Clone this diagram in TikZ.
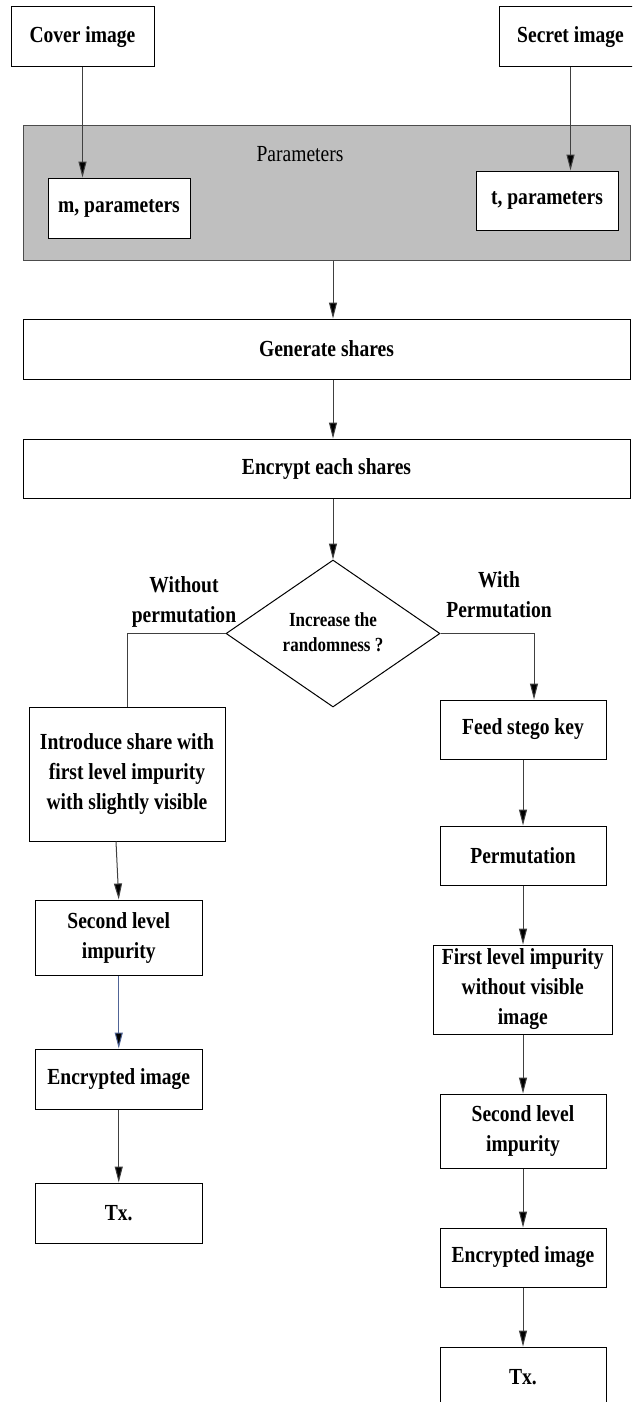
\documentclass[tikz,border=0pt]{standalone}
\usepackage{fontspec}
\setmainfont[FakeStretch=0.85]{Liberation Serif}
\usetikzlibrary{shapes.geometric,arrows.meta}

\begin{document}
\begin{tikzpicture}[x=1pt,y=-1pt,
  box/.style={draw=black, line width=1pt, fill=white, align=center, inner sep=0pt,
    font=\fontsize{23}{30}\selectfont\bfseries},
  link/.style={draw=black!75, line width=1pt},
  arr/.style={link, -{Triangle[length=16pt,width=8pt,fill=black]}}
]
\clip (0,0) rectangle (632,1402);
\fill[white] (0,0) rectangle (632,1402);

% inputs
\node[box, minimum width=143pt, minimum height=60pt] (cover) at (82.5,37) {Cover image};
\node[box, minimum width=143pt, minimum height=60pt] (secret) at (570.5,37) {Secret image};

% parameter block
\node[draw=black!70, line width=1pt, fill=black!25, minimum width=607pt, minimum height=134pt,
  inner sep=0pt] (par) at (326.5,193) {};
\node[font=\fontsize{23}{30}\selectfont] (partitle) at (300,154) {Parameters};
\node[box, minimum width=142pt, minimum height=60pt] (mpar) at (119,208) {m, parameters};
\node[box, minimum width=142pt, minimum height=59pt] (tpar) at (547,200.5) {t, parameters};

% main chain
\node[box, minimum width=607pt, minimum height=60pt] (gen) at (326.5,349) {Generate shares};
\node[box, minimum width=607pt, minimum height=59pt] (enc) at (326.5,468.5) {Encrypt each shares};
\node[draw=black, line width=1pt, diamond, minimum width=214pt, minimum height=147pt,
  inner sep=0pt] (dia) at (333,633.5) {};
\node[align=center, font=\fontsize{20}{25}\selectfont\bfseries] (diatext) at (333,632.5)
  {Increase the\\randomness ?};

% branch labels
\node[align=center, font=\fontsize{23}{30}\selectfont\bfseries] (lwo) at (184,602) {Without\\permutation};
\node[align=center, font=\fontsize{23}{30}\selectfont\bfseries] (lwi) at (499,594.5) {With\\Permutation};

% left branch
\node[box, minimum width=196pt, minimum height=134pt] (intro) at (127,774)
  {Introduce share with\\first level impurity\\with slightly visible};
\node[box, minimum width=166.5pt, minimum height=75pt] (secL) at (118.75,937.5) {Second level\\impurity};
\node[box, minimum width=166.5pt, minimum height=60pt] (encL) at (118.75,1079) {Encrypted image};
\node[box, minimum width=166.5pt, minimum height=60pt] (txL) at (118.75,1213) {Tx.};

% right branch
\node[box, minimum width=166pt, minimum height=59pt] (feed) at (523,729.5) {Feed stego key};
\node[box, minimum width=166pt, minimum height=59pt] (perm) at (523,855.5) {Permutation};
\node[box, minimum width=178.5pt, minimum height=89pt] (first) at (522.75,989.5)
  {First level impurity\\without visible\\image};
\node[box, minimum width=166pt, minimum height=74pt] (secR) at (523,1131) {Second level\\impurity};
\node[box, minimum width=166pt, minimum height=59pt] (encR) at (523,1257.5) {Encrypted image};
\node[box, minimum width=166pt, minimum height=60pt] (txR) at (523,1377) {Tx.};

% connectors
\draw[arr] (cover.south) -- (cover.south |- mpar.north);
\draw[arr] (secret.south) -- (secret.south |- tpar.north);
\draw[arr] (par.south -| dia.north) -- (gen.north -| dia.north);
\draw[arr] (gen.south -| dia.north) -- (enc.north -| dia.north);
\draw[arr] (enc.south -| dia.north) -- (dia.north);
\draw[link] (dia.west) -| (intro.north);
\coordinate (feedin) at ([xshift=11pt]feed.north);
\draw[arr] (dia.east) -| (feedin);
\draw[arr] ([xshift=-11pt]intro.south) -- (secL.north);
\draw[arr, draw={rgb,255:red,80;green,100;blue,150}] (secL.south) -- (encL.north);
\draw[arr] (encL.south) -- (txL.north);
\draw[arr] (feed.south) -- (perm.north);
\draw[arr] (perm.south) -- (perm.south |- first.north);
\draw[arr] (first.south -| secR.north) -- (secR.north);
\draw[arr] (secR.south) -- (encR.north);
\draw[arr] (encR.south) -- (txR.north);
\end{tikzpicture}
\end{document}
